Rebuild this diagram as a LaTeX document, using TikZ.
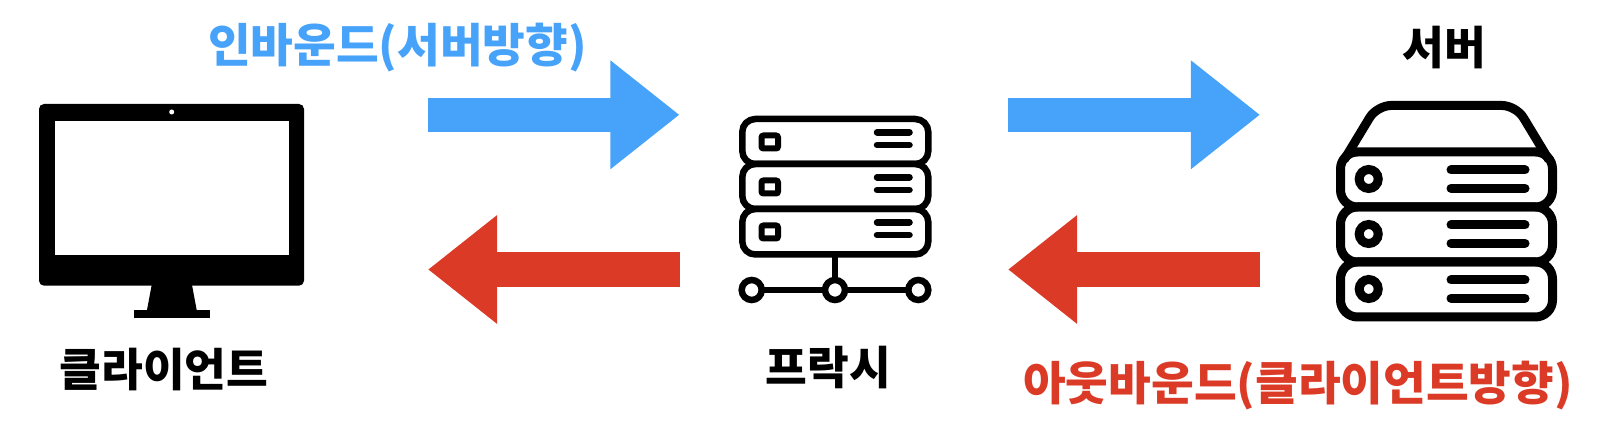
\documentclass[tikz,border=0pt]{standalone}
\usepackage{fontspec}
\newfontfamily\kofont{Noto Sans CJK KR Black}
\usetikzlibrary{arrows.meta}
\definecolor{inblue}{HTML}{47A2FA}
\definecolor{outred}{HTML}{DB3B26}

\begin{document}
\begin{tikzpicture}[x=.01cm,y=-.01cm,
  label/.style={font=\kofont\fontsize{12.9pt}{14pt}\selectfont,text=black,inner sep=0pt},
  flowlabel/.style={label,font=\kofont\fontsize{13.2pt}{15pt}\selectfont,text=#1},
  flow/.style={draw=#1,line width=.34cm,-{Triangle[length=.69cm,width=1.04cm,fill=#1]}},
  slot/.style={line width=.065cm,line cap=round},
  bar/.style={line width=.09cm,line cap=round}]
  \useasboundingbox (0,0) rectangle (1600,446);
  % labels
  \node[flowlabel=inblue] (inlabel) at (397.5,48) {인바운드(서버방향)};
  \node[flowlabel=outred] (outlabel) at (1298,385.5) {아웃바운드(클라이언트방향)};
  \node[label] (clientlabel) at (164,370) {클라이언트};
  \node[label] (proxylabel) at (828.5,367.5) {프락시};
  \node[label] (serverlabel) at (1444,47.5) {서버};
  % arrows
  \coordinate (ina) at (428,114.8);
  \coordinate (inb) at (679.5,114.8);
  \coordinate (inc) at (1008,114.8);
  \coordinate (ind) at (1260,114.8);
  \coordinate (outa) at (680,269.5);
  \coordinate (outb) at (428,269.5);
  \coordinate (outc) at (1260,269.5);
  \coordinate (outd) at (1008,269.5);
  \draw[flow=inblue] (ina) -- (inb);
  \draw[flow=inblue] (inc) -- (ind);
  \draw[flow=outred] (outa) -- (outb);
  \draw[flow=outred] (outc) -- (outd);
  % client
  \fill[rounded corners=.05cm] (39,104) rectangle (304,285.7);
  \fill[white] (55,121) rectangle (289,254.7);
  \fill[white] (171.7,112) circle (2.5);
  \fill (151.7,285) -- (192,285) -- (196.7,310) -- (147,310) -- cycle;
  \fill (134,310) rectangle (210,318);
  % proxy
  \begin{scope}[line width=.065cm]
    \draw[rounded corners=.13cm] (742.3,119) rectangle (928.3,164);
    \draw[rounded corners=.13cm] (742.3,164) rectangle (928.3,209);
    \draw[rounded corners=.13cm] (742.3,209) rectangle (928.3,254.5);
    \draw[line width=.06cm,rounded corners=.02cm] (761.5,135.5) rectangle (778,148.5);
    \draw[line width=.06cm,rounded corners=.02cm] (761.5,180.5) rectangle (778,193.5);
    \draw[line width=.06cm,rounded corners=.02cm] (761.5,225.5) rectangle (778,238.5);
    \draw[slot] (877,132.3) -- (909.5,132.3) (877,145) -- (909.5,145);
    \draw[slot] (877,177.3) -- (909.5,177.3) (877,190) -- (909.5,190);
    \draw[slot] (877,222.3) -- (909.5,222.3) (877,235) -- (909.5,235);
    \draw (835,254.5) -- (835,290);
    \draw (751.7,290) -- (918.3,290);
    \draw[fill=white] (751.7,290) circle (10);
    \draw[fill=white] (835,290) circle (10);
    \draw[fill=white] (918.3,290) circle (10);
  \end{scope}
  % server
  \begin{scope}[line width=.09cm]
    \draw[rounded corners=.14cm] (1344,160) -- (1377,105.5) -- (1516,105.5) -- (1549,160);
    \draw[rounded corners=.17cm] (1340.5,152) rectangle (1552.5,207);
    \draw[rounded corners=.17cm] (1340.5,207) rectangle (1552.5,262);
    \draw[rounded corners=.17cm] (1340.5,262) rectangle (1552.5,317);
    \draw (1368.7,179) circle (9.5);
    \draw (1368.7,234) circle (9.5);
    \draw (1368.7,289) circle (9.5);
    \draw[bar] (1451,170) -- (1525,170) (1451,188.3) -- (1525,188.3);
    \draw[bar] (1451,225) -- (1525,225) (1451,243.3) -- (1525,243.3);
    \draw[bar] (1451,280) -- (1525,280) (1451,298.3) -- (1525,298.3);
  \end{scope}
\end{tikzpicture}
\end{document}
